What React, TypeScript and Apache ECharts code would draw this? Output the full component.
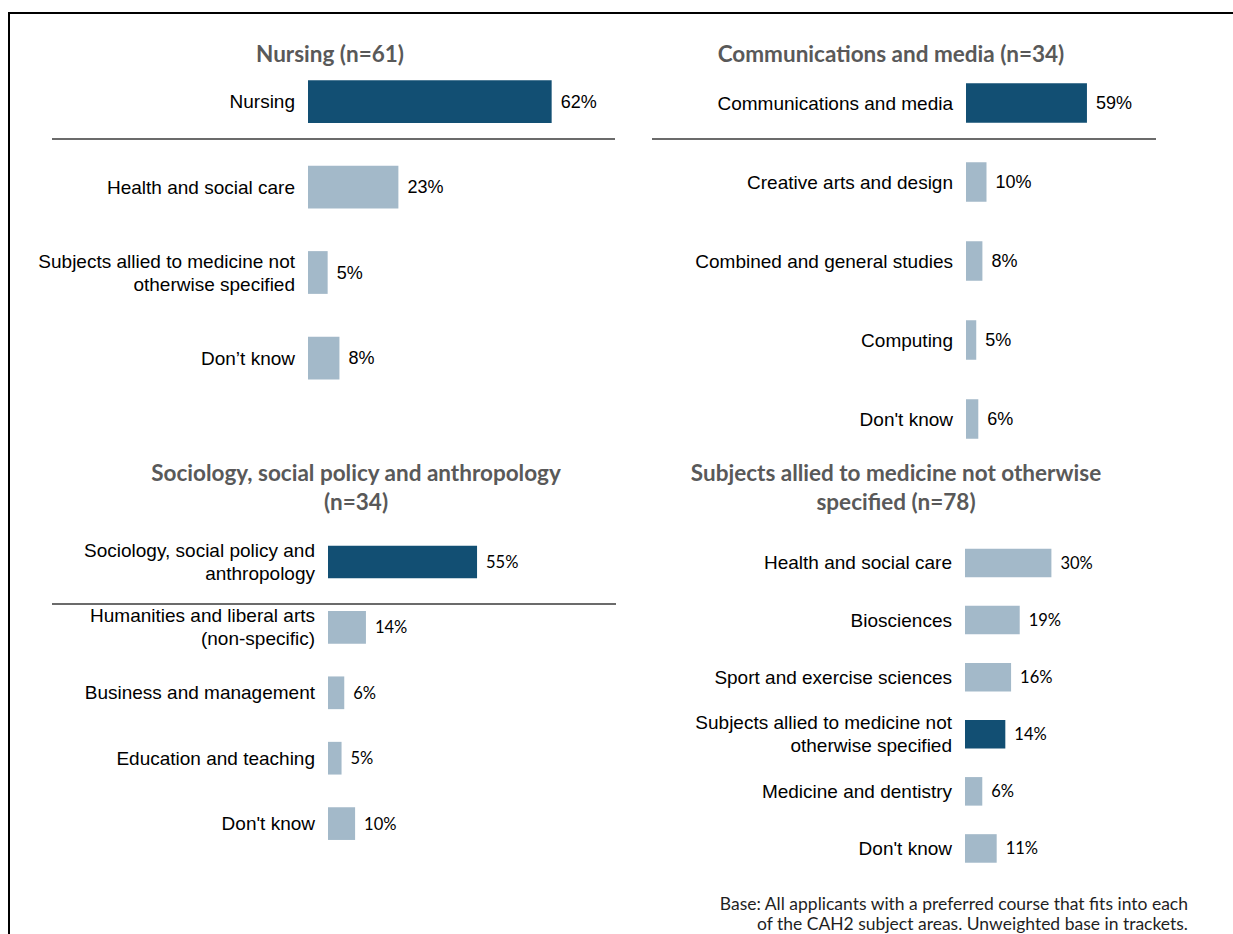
import React, { useEffect, useRef } from "react";
import * as echarts from "echarts";

// ---- Data ----
const nursingTitle = "Nursing (n=61)";
const nursingCats = ["Nursing", "Health and social care", "Subjects allied to medicine not\notherwise specified", "Don’t know"];
const nursingVals = [62, 23, 5, 8];
const nursingHighlight = 0;

const commsTitle = "Communications and media (n=34)";
const commsCats = ["Communications and media", "Creative arts and design", "Combined and general studies", "Computing", "Don't know"];
const commsVals = [59, 10, 8, 5, 6];
const commsHighlight = 0;

const socioTitle = ["Sociology, social policy and anthropology", "(n=34)"];
const socioCats = ["Sociology, social policy and\nanthropology", "Humanities and liberal arts\n(non-specific)", "Business and management", "Education and teaching", "Don't know"];
const socioVals = [55, 14, 6, 5, 10];
const socioHighlight = 0;

const alliedTitle = ["Subjects allied to medicine not otherwise", "specified (n=78)"];
const alliedCats = ["Health and social care", "Biosciences", "Sport and exercise sciences", "Subjects allied to medicine not\notherwise specified", "Medicine and dentistry", "Don't know"];
const alliedVals = [30, 19, 16, 14, 6, 11];
const alliedHighlight = 3;

const footnote = [
  "Base: All applicants with a preferred course that fits into each",
  "of the CAH2 subject areas. Unweighted base in trackets.",
];

const DARK = "#124f73";
const LIGHT = "#a3b9c9";
const TITLE_GRAY = "#595959";
const ARIAL = "Liberation Sans, Arial, sans-serif";
const CAL = "Lato, 'Open Sans', sans-serif";

const axisMax = [100, 100, 100, 60];
const grids = [
  { left: 308, top: 58.75, width: 393, height: 342 },
  { left: 966, top: 63.5, width: 205, height: 395 },
  { left: 328, top: 529.3, width: 271, height: 327 },
  { left: 965, top: 534.4, width: 172.8, height: 342.6 },
];

function makeSeries(idx: number, vals: number[], hi: number, font: string, size: number) {
  return {
    type: "bar",
    xAxisIndex: idx,
    yAxisIndex: idx,
    barWidth: "50%",
    silent: true,
    data: vals.map((v, i) => ({ value: v, itemStyle: { color: i === hi ? DARK : LIGHT } })),
    label: {
      show: true,
      position: "right",
      distance: 9,
      formatter: "{c}%",
      fontFamily: font,
      fontSize: size,
      color: "#000",
    },
  };
}

function makeYAxis(idx: number, cats: string[]) {
  return {
    type: "category",
    gridIndex: idx,
    inverse: true,
    data: cats,
    axisLine: { show: false },
    axisTick: { show: false },
    splitLine: { show: false },
    axisLabel: {
      margin: 13,
      fontFamily: ARIAL,
      fontSize: 19,
      lineHeight: 23,
      color: "#000",
      align: "right",
    },
  };
}

function makeXAxis(idx: number) {
  return { type: "value", gridIndex: idx, min: 0, max: axisMax[idx], show: false };
}

export default function App() {
  const ref = useRef<HTMLDivElement>(null);
  useEffect(() => {
    if (!ref.current) return;
    const chart = echarts.init(ref.current, undefined, { renderer: "svg" });
    const titleStyle = (text: string, x: number, y: number) => ({
      type: "text",
      x,
      y,
      silent: true,
      style: {
        text,
        fontFamily: CAL,
        fontWeight: "bold",
        fontSize: 22.5,
        fill: TITLE_GRAY,
        align: "center",
        verticalAlign: "middle",
      },
    });
    const sep = (x1: number, x2: number, y: number) => ({
      type: "line",
      silent: true,
      shape: { x1, y1: y, x2, y2: y },
      style: { stroke: "#3a3a3a", lineWidth: 1.4 },
    });
    const foot = (text: string, y: number) => ({
      type: "text",
      x: 1188,
      y,
      silent: true,
      style: { text, fontFamily: CAL, fontSize: 17.5, fill: "#1f1f1f", align: "right", verticalAlign: "middle" },
    });
    chart.setOption({
      animation: false,
      backgroundColor: "#ffffff",
      grid: grids,
      xAxis: [0, 1, 2, 3].map(makeXAxis),
      yAxis: [
        makeYAxis(0, nursingCats),
        makeYAxis(1, commsCats),
        makeYAxis(2, socioCats),
        makeYAxis(3, alliedCats),
      ],
      series: [
        makeSeries(0, nursingVals, nursingHighlight, ARIAL, 18),
        makeSeries(1, commsVals, commsHighlight, ARIAL, 18),
        makeSeries(2, socioVals, socioHighlight, CAL, 16.5),
        makeSeries(3, alliedVals, alliedHighlight, CAL, 16.5),
      ],
      graphic: [
        {
          type: "rect",
          silent: true,
          shape: { x: 9, y: 13, width: 1400, height: 1200 },
          style: { fill: "none", stroke: "#000", lineWidth: 2 },
        },
        titleStyle(nursingTitle, 330, 53),
        titleStyle(commsTitle, 891, 53),
        titleStyle(socioTitle[0], 356, 472),
        titleStyle(socioTitle[1], 356, 501),
        titleStyle(alliedTitle[0], 896, 472),
        titleStyle(alliedTitle[1], 896, 501),
        sep(52, 615, 139),
        sep(652, 1156, 139),
        sep(52, 616, 604),
        foot(footnote[0], 903),
        foot(footnote[1], 923),
      ],
    });
    return () => chart.dispose();
  }, []);
  return (
    <div
      ref={ref}
      style={{ position: "absolute", left: 0, top: 0, width: 1233, height: 934, background: "#fff" }}
    />
  );
}
